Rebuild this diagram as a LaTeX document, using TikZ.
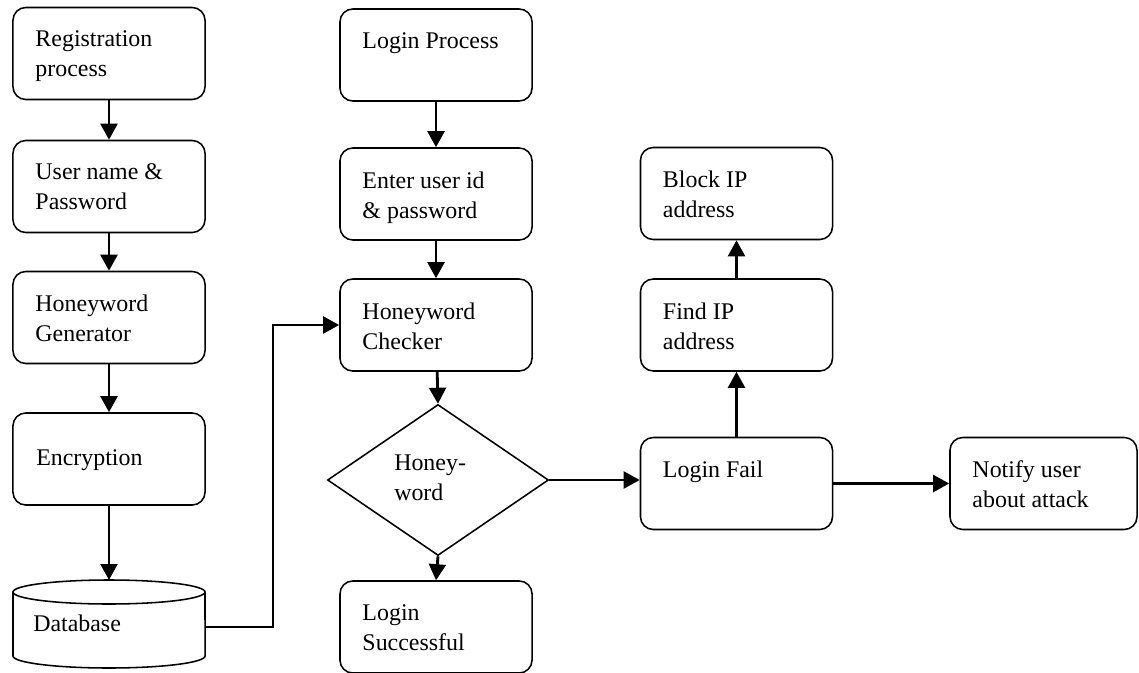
\documentclass[tikz,border=0pt]{standalone}
\usepackage{fontspec}
\setmainfont{Liberation Serif}
\usetikzlibrary{arrows.meta}
\usetikzlibrary{shapes.geometric}

\tikzset{
  txt/.style={anchor=north west, align=left, inner sep=0pt, xshift=0.575cm, yshift=-0.6cm,
    font=\fontsize{17}{21.3}\selectfont},
  stage/.style={draw, line width=1.1pt, rounded corners=0.32cm, minimum width=4.8cm,
    minimum height=2.3cm, inner sep=0pt, label={[txt]north west:#1}},
  flow/.style={line width=2pt, -{Triangle[length=0.4cm,width=0.42cm]}}
}

\begin{document}
\begin{tikzpicture}[x=0.025cm, y=-0.025cm]
\useasboundingbox (0,0) rectangle (1139,672);

\node[stage={Registration\\process}] (reg) at (109,53.5) {};
\node[stage={User name \&\\Password}] (user) at (109,186.5) {};
\node[stage={Honeyword\\Generator}] (gen) at (109,317.5) {};
\node[stage={}] (enc) at (109,459) {};
\node[txt, xshift=-0.575cm, yshift=0.6cm] (enctxt) at (36,449) {Encryption};
\node[minimum width=4.8cm, minimum height=2.2cm, inner sep=0pt] (db) at (109,627) {};
\draw[line width=1.1pt] (109,592) ellipse [x radius=2.4cm, y radius=0.3cm];
\draw[line width=1.1pt] (13,592) -- (13,656) arc[start angle=180, end angle=360, x radius=2.4cm, y radius=0.3cm] -- (205,592);
\node[txt, xshift=-0.575cm, yshift=0.6cm] (dbtxt) at (33,615) {Database};

\node[stage={Login Process}] (login) at (436,55) {};
\node[stage={Enter user id\\\& password}] (enter) at (436,194) {};
\node[stage={Honeyword\\Checker}] (check) at (436,325) {};
\node[diamond, draw, line width=1.1pt, minimum width=5.525cm, minimum height=3.775cm, inner sep=0pt] (hw) at (438,480) {};
\node[txt, xshift=-0.575cm, yshift=0.6cm] (hwtxt) at (394,455) {Honey-\\word};
\node[stage={Login\\Successful}] (succ) at (436,627) {};

\node[stage={Block IP\\address}] (block) at (736.5,193.5) {};
\node[stage={Find IP\\address}] (find) at (736.5,325) {};
\node[stage={Login Fail}] (fail) at (736.5,483.5) {};
\node[stage={Notify user\\about attack}, minimum width=4.675cm] (notify) at (1043.5,483.5) {};

\draw[flow] (reg) -- (user);
\draw[flow] (user) -- (gen);
\draw[flow] (gen) -- (enc);
\draw[flow] (enc.south) -- (109,580);
\draw[flow] (db.east) -- (273,627) |- (check.west);
\draw[flow] (login) -- (enter);
\draw[flow] (enter) -- (check);
\draw[flow] (check) -- (hw.north);
\draw[flow] (hw.south) -- (succ.north);
\draw[flow] (hw.east) -- (hw.east -| fail.west);
\draw[flow] (fail) -- (find);
\draw[flow] (find) -- (block);
\draw[flow] (fail) -- (notify);
\end{tikzpicture}
\end{document}
